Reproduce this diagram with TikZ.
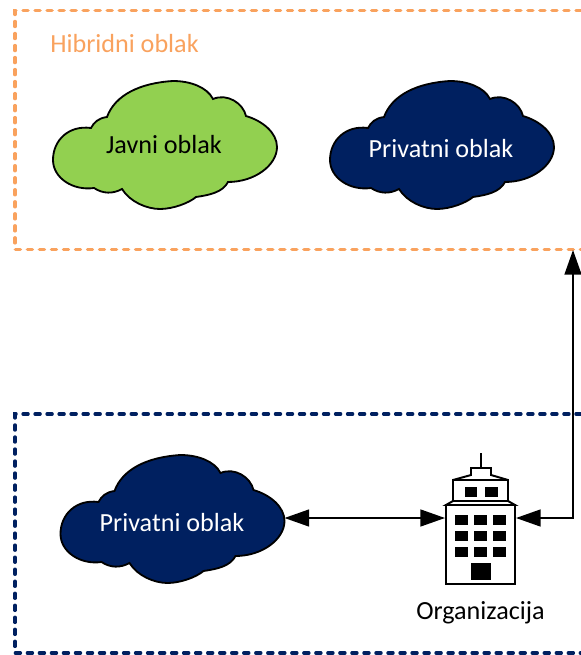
\documentclass[tikz,border=0pt]{standalone}
\usepackage{fontspec}
\setmainfont{Carlito}
\usetikzlibrary{arrows.meta}
\usetikzlibrary{positioning}
\definecolor{hibrid}{HTML}{F9A25E}
\definecolor{tamna}{HTML}{002060}
\definecolor{zelena}{HTML}{92D050}
\tikzset{
oblak/.pic={
\filldraw[draw=black,line width=1.3pt,fill=#1] (-74,-17) .. controls (-96,-20) and (-112,-5) .. (-112,15) .. controls (-112,33) and (-92,46) .. (-71,43) .. controls (-62,49) and (-52,49) .. (-43,44) .. controls (-35,57) and (-18,64) .. (-5,64) .. controls (8,64) and (24,58) .. (31,52) .. controls (45,50) and (58,47) .. (63,37) .. controls (90,37) and (112,20) .. (112,2) .. controls (112,-12) and (98,-24) .. (81,-29) .. controls (78,-42) and (62,-52) .. (48,-46) .. controls (42,-58) and (25,-64) .. (8,-64) .. controls (-25,-62) and (-50,-50) .. (-58,-28) .. controls (-66,-27) and (-71,-23) .. (-74,-17) -- cycle;
\coordinate (-desno) at (112,-1);
},
okvir/.style={line width=2.4pt,line cap=round,dash pattern=on 3.6pt off 4.95pt},
spoj/.style={line width=1.3pt,{Triangle[length=17.5pt,width=12pt]}-{Triangle[length=17.5pt,width=12pt]}},
natpis/.style={font=\fontsize{18.6pt}{20pt}\selectfont},
prozor/.style={fill=black},
}

\begin{document}
\begin{tikzpicture}[x=0.25mm,y=-0.25mm]
\useasboundingbox (0,0) rectangle (581,655);
% okviri
\draw[okvir,draw=hibrid] (581,10.5) -- (15,10.5) -- (15,249.5) -- (581,249.5);
\draw[okvir,draw=tamna] (581,414) -- (15,414) -- (15,653) -- (581,653);
\node[natpis,text=hibrid] (naslov) at (124.5,44) {Hibridni oblak};
% oblaci
\pic (javni) at (165,145) {oblak=zelena};
\pic (privatni) at (442,145) {oblak=tamna};
\pic (lokalni) at (172.5,519) {oblak=tamna};
\node[natpis,text=black] (javnitekst) at (164,145) {Javni oblak};
\node[natpis,text=white] (privatnitekst) at (441,149) {Privatni oblak};
\node[natpis,text=white] (lokalnitekst) at (172,523) {Privatni oblak};
% zgrada
\node[draw=black,fill=white,line width=1.4pt,minimum width=69*0.25mm,minimum height=79*0.25mm,inner sep=0pt] (zgrada) at (480.5,544.5) {};
\draw[line width=1.4pt,fill=white] (446,505) -- (453,501) -- (508,501) -- (515,505) -- cycle;
\draw[line width=1.4pt] (453,501) -- (453,480) -- (471,475) -- (471,468) -- (491,468) -- (491,475) -- (508,480) -- (508,501);
\draw[line width=1.4pt] (453,480) -- (508,480);
\draw[line width=1pt] (481,468) -- (481,453);
\fill[prozor] (465,486.7) rectangle (477.3,496.7);
\fill[prozor] (485,486.7) rectangle (497.7,496.7);
\fill[prozor] (455,515) rectangle (467.7,525);
\fill[prozor] (474,515) rectangle (486.7,525);
\fill[prozor] (493,515) rectangle (505.7,525);
\fill[prozor] (455,530.7) rectangle (467.7,540.7);
\fill[prozor] (474,530.7) rectangle (486.7,540.7);
\fill[prozor] (493,530.7) rectangle (505.7,540.7);
\fill[prozor] (455,546.7) rectangle (467.7,556.7);
\fill[prozor] (474,546.7) rectangle (486.7,556.7);
\fill[prozor] (493,546.7) rectangle (505.7,556.7);
\fill[prozor] (471,562.7) rectangle (490.7,580);
\node[natpis,text=black,below=3mm of zgrada.south] (organizacija) {Organizacija};
% veze
\coordinate (ulaz) at (573,250);
\draw[spoj] (lokalni-desno) -- (lokalni-desno -| zgrada.west);
\draw[spoj] (ulaz) |- (lokalni-desno -| zgrada.east);
\end{tikzpicture}
\end{document}
